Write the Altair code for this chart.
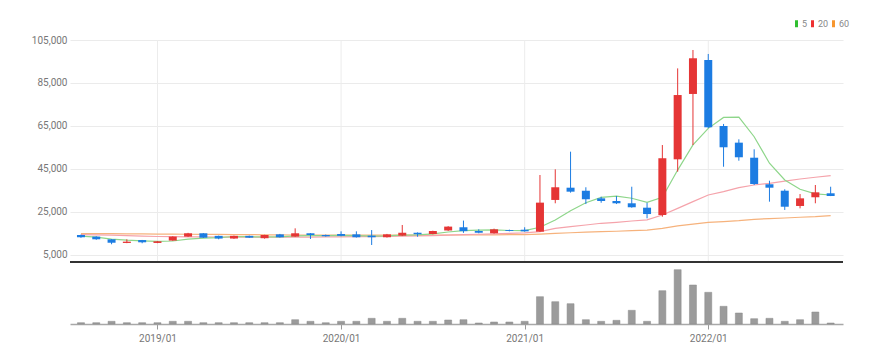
import altair as alt
import pandas as pd

# ---------------- data ----------------
months = ["2018/08", "2018/09", "2018/10", "2018/11", "2018/12",
          "2019/01", "2019/02", "2019/03", "2019/04", "2019/05", "2019/06",
          "2019/07", "2019/08", "2019/09", "2019/10", "2019/11", "2019/12",
          "2020/01", "2020/02", "2020/03", "2020/04", "2020/05", "2020/06",
          "2020/07", "2020/08", "2020/09", "2020/10", "2020/11", "2020/12",
          "2021/01", "2021/02", "2021/03", "2021/04", "2021/05", "2021/06",
          "2021/07", "2021/08", "2021/09", "2021/10", "2021/11", "2021/12",
          "2022/01", "2022/02", "2022/03", "2022/04", "2022/05", "2022/06",
          "2022/07", "2022/08", "2022/09"]

open_ = [14300, 13550, 12300, 10600, 11950, 10600, 11700, 13550, 15100, 13900,
         12650, 13900, 12800, 14600, 13550, 15100, 14300, 14750, 14600, 14000,
         13250, 14000, 15350, 14750, 16400, 17900, 16150, 15100, 16600, 16750,
         15850, 30600, 36300, 34900, 31350, 30100, 29050, 27000, 23600, 49500,
         79900, 95700, 65000, 57250, 50250, 37900, 34900, 27800, 31850, 33700]
high = [14500, 13700, 12400, 12300, 12000, 11500, 13700, 15300, 15200, 14000,
        14000, 14000, 14400, 14800, 17400, 15200, 14500, 16000, 16000, 16600,
        14800, 18950, 15500, 16300, 18400, 21000, 16950, 17250, 16800, 17900,
        42200, 44850, 53050, 36500, 32100, 32450, 36750, 29300, 56150, 91800,
        100350, 98500, 65950, 58800, 54150, 39550, 35550, 33350, 37550, 36750]
low = [13000, 12100, 10000, 10500, 10450, 10500, 11600, 13400, 12900, 12300,
       12500, 12900, 12600, 13100, 13400, 12450, 13550, 13700, 13100, 9650,
       13100, 13800, 13500, 14600, 16200, 15300, 15100, 14950, 16000, 15850,
       15700, 29050, 34000, 28700, 29300, 28700, 27000, 22050, 22800, 43750,
       56150, 64000, 46050, 48850, 37550, 29800, 25950, 26700, 29050, 32400]
close = [13250, 12300, 10700, 11200, 10900, 11350, 13550, 15100, 13050, 12650,
         13900, 13050, 14300, 13250, 15100, 14300, 13700, 13900, 13250, 13250,
         14600, 15350, 14650, 16150, 18200, 16100, 15350, 16950, 16150, 16000,
         29350, 36500, 34450, 30900, 30100, 29050, 27200, 24050, 50000, 79400,
         96500, 64400, 55100, 50450, 38000, 36300, 27450, 31350, 34150, 32450]
volume = [130, 130, 270, 130, 130, 130, 270, 270, 130, 130,
          130, 130, 130, 130, 430, 270, 130, 270, 270, 570,
          270, 570, 270, 270, 400, 430, 100, 200, 200, 270,
          2730, 2230, 2030, 430, 270, 370, 1370, 270, 3330, 5430,
          3900, 3170, 1770, 1100, 530, 570, 270, 430, 1200, 100]

ma5 = [13800, 13300, 12400, 11900, 11600, 11300, 11500, 12400, 12800, 13100,
       13600, 13500, 13400, 13400, 13900, 14000, 14000, 14100, 14000, 13800,
       13900, 14200, 14400, 14800, 15700, 16300, 16600, 16700, 16400, 16300,
       17900, 21300, 25600, 29300, 31800, 32400, 31400, 29500, 31800, 44500,
       56200, 63900, 69000, 69100, 60000, 47700, 39900, 35600, 33400, 32900]
ma20 = [14500, 14400, 14200, 14000, 13800, 13600, 13500, 13450, 13400, 13350,
        13300, 13250, 13250, 13250, 13300, 13350, 13400, 13450, 13500, 13550,
        13650, 13750, 13850, 14000, 14250, 14500, 14650, 14850, 15050, 15250,
        15850, 17400, 18200, 18950, 19750, 20200, 20800, 21300, 23600, 26700,
        29800, 32900, 34450, 36300, 37550, 38350, 39400, 40350, 41150, 41900]
ma60 = [15000, 14950, 14900, 14850, 14800, 14750, 14700, 14650, 14600, 14550,
        14500, 14450, 14400, 14350, 14300, 14300, 14250, 14250, 14200, 14200,
        14200, 14200, 14250, 14250, 14300, 14300, 14350, 14400, 14450, 14500,
        14750, 15050, 15350, 15600, 15850, 16050, 16300, 16600, 17400, 18500,
        19400, 20200, 20500, 20950, 21600, 21900, 22200, 22550, 22800, 23300]

year_ticks = ["2019/01", "2020/01", "2021/01", "2022/01"]
price_ticks = [5000, 25000, 45000, 65000, 85000, 105000]
ma_names = ["5", "20", "60"]

# ---------------- styling ----------------
FONT = "Liberation Sans Narrow, Roboto, sans-serif"
RED = "#e53535"
BLUE = "#1c7ce2"
LINE_COLORS = ["#8ed68a", "#f5a3ab", "#f6b27c"]
LEGEND_COLORS = ["#2fbf2f", "#ee3030", "#f7962e"]
W, H = 773, 284
SEP = 222  # pixel row of the price panel's bottom line

df = pd.DataFrame({
    "i": list(range(len(months))), "month": months,
    "open": open_, "high": high, "low": low, "close": close,
    "vol": volume, "ma5": ma5, "ma20": ma20, "ma60": ma60,
})
tick_idx = [months.index(t) for t in year_ticks]
ticks_df = pd.DataFrame({"i": tick_idx, "label": year_ticks})
legend_df = pd.DataFrame({"ma": ma_names})

label_expr = " : ".join(
    f"datum.value == {i} ? '{t}'" for i, t in zip(tick_idx, year_ticks)) + " : ''"

x_scale = alt.Scale(domain=[-0.39, 49.48], nice=False, zero=False)
x_axis = alt.Axis(values=tick_idx, labelExpr=label_expr, grid=False, title=None,
                  domainColor="#a8a8a8", domainWidth=1.5, tickColor="#999",
                  tickSize=5, labelFont=FONT, labelFontSize=10,
                  labelColor="#777", labelPadding=4)
X = alt.X("i:Q", scale=x_scale, axis=x_axis)

y_scale = alt.Scale(domain=[-27100, 105000], nice=False, zero=False)
y_axis = alt.Axis(values=price_ticks, format=",d", title=None, domain=False,
                  ticks=False, grid=True, gridColor="#ebebeb", labelFont=FONT,
                  labelFontSize=10, labelColor="#777", labelPadding=3)

base = alt.Chart(df)
up = "datum.close >= datum.open"
candle_color = alt.condition(up, alt.value(RED), alt.value(BLUE))

vgrid = alt.Chart(ticks_df).mark_rule(color="#ececec", strokeWidth=1).encode(
    x=X, y=alt.value(0), y2=alt.value(SEP))

lines = [base.mark_line(color=c, strokeWidth=1.2).encode(
    x=X, y=alt.Y(f"{f}:Q", scale=y_scale, axis=y_axis))
    for f, c in zip(["ma60", "ma20", "ma5"], LINE_COLORS[::-1])]

wicks = base.mark_rule(strokeWidth=1).encode(
    x=X, y=alt.Y("low:Q", scale=y_scale, axis=y_axis), y2="high:Q",
    color=candle_color)
bodies = base.mark_bar(size=8).encode(
    x=X, y=alt.Y("open:Q", scale=y_scale, axis=y_axis), y2="close:Q",
    color=candle_color)

sep = base.mark_rule(color="#333333", strokeWidth=2).encode(
    x=alt.value(0), x2=alt.value("width"), y=alt.value(SEP))

price = alt.layer(vgrid, *lines, wicks, bodies, sep)

vol = base.mark_bar(size=7, color="#9b9b9b", stroke="#8a8a8a",
                    strokeWidth=0.5).encode(
    x=X, y=alt.Y("vol:Q", scale=alt.Scale(domain=[0, 28400], nice=False),
                 axis=None))

legend_layer = alt.Chart(legend_df).mark_square(opacity=0, size=1).encode(
    color=alt.Color("ma:N", scale=alt.Scale(domain=ma_names, range=LEGEND_COLORS),
                    legend=alt.Legend(
                        orient="none", legendX=722, legendY=-21,
                        direction="horizontal", title=None,
                        symbolType="M-0.6,-1.4L0.6,-1.4L0.6,1.4L-0.6,1.4Z",
                        symbolSize=25, symbolOpacity=1, symbolStrokeWidth=0,
                        labelFont=FONT, labelFontSize=9, labelColor="#888",
                        labelOffset=1, columnPadding=0)))

chart = alt.layer(price, vol, legend_layer).resolve_scale(
    y="independent"
).properties(
    width=W, height=H,
    autosize=alt.AutoSizeParams(type="none"),
    padding={"left": 70, "top": 40, "right": 42, "bottom": 40},
    background="white",
).configure_view(stroke=None)

chart.save("out.html", embed_options={"renderer": "svg", "actions": False})
